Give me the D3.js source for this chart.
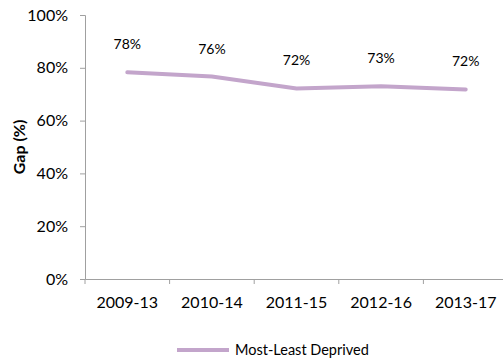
<!DOCTYPE html>
<html><head><meta charset="utf-8">
<script src="https://cdnjs.cloudflare.com/ajax/libs/d3/7.8.5/d3.min.js"></script>
<style>body{margin:0;background:#fff}svg{display:block}text{font-family:Lato,"Open Sans",sans-serif;fill:#000}</style>
</head><body><svg id="c" width="503" height="362"></svg>
<script>
const categories = ["2009-13","2010-14","2011-15","2012-16","2013-17"];
const values = [78.3, 76.7, 72.2, 73.0, 71.8];
const valueLabels = ["78%","76%","72%","73%","72%"];
const yTicks = [0,20,40,60,80,100];
const seriesName = "Most-Least Deprived";

(function(){
const svg = d3.select("#c");
const mLeft = 85, mRight = 508, mTop = 15, mBottom = 279;
const x = d3.scaleBand().domain(categories).range([mLeft, mRight]);
const y = d3.scaleLinear().domain([0,100]).range([mBottom, mTop]);
const axisColor = "#a0a0a0";

const ya = svg.append("g").attr("transform",`translate(${mLeft},0)`)
  .call(d3.axisLeft(y).tickValues(yTicks).tickFormat(d=>d+"%").tickSize(5).tickPadding(12));
ya.select(".domain").attr("stroke",axisColor);
ya.selectAll(".tick line").attr("stroke",axisColor);
ya.selectAll(".tick text").attr("font-size",16).attr("font-family","Lato");

const xa = svg.append("g").attr("transform",`translate(0,${mBottom})`)
  .call(d3.axisBottom(x).tickSize(0).tickPadding(18));
xa.select(".domain").attr("stroke",axisColor);
xa.selectAll(".tick text").attr("font-size",16).attr("font-family","Lato");
const edges = categories.map(c=>x(c));
svg.append("g").selectAll("line").data(edges).join("line")
  .attr("x1",d=>d).attr("x2",d=>d).attr("y1",mBottom).attr("y2",mBottom+5).attr("stroke",axisColor);

const line = d3.line().x((d,i)=>x(categories[i])+x.bandwidth()/2).y(d=>y(d));
svg.append("path").datum(values).attr("d",line).attr("fill","none")
  .attr("stroke","#C3A5CB").attr("stroke-width",4).attr("stroke-linecap","round");

svg.append("g").selectAll("text").data(values).join("text")
  .attr("x",(d,i)=>x(categories[i])+x.bandwidth()/2)
  .attr("y",d=>y(d)-23)
  .attr("text-anchor","middle").attr("font-size",14)
  .text((d,i)=>valueLabels[i]);

svg.append("text").attr("transform",`translate(25,147) rotate(-90)`)
  .attr("text-anchor","middle").attr("font-size",16).attr("font-weight","bold").text("Gap (%)");

svg.append("line").attr("x1",177).attr("x2",229).attr("y1",350).attr("y2",350)
  .attr("stroke","#C3A5CB").attr("stroke-width",4);
svg.append("text").attr("x",235).attr("y",355).attr("font-size",14.5).text(seriesName);
})();
</script></body></html>
